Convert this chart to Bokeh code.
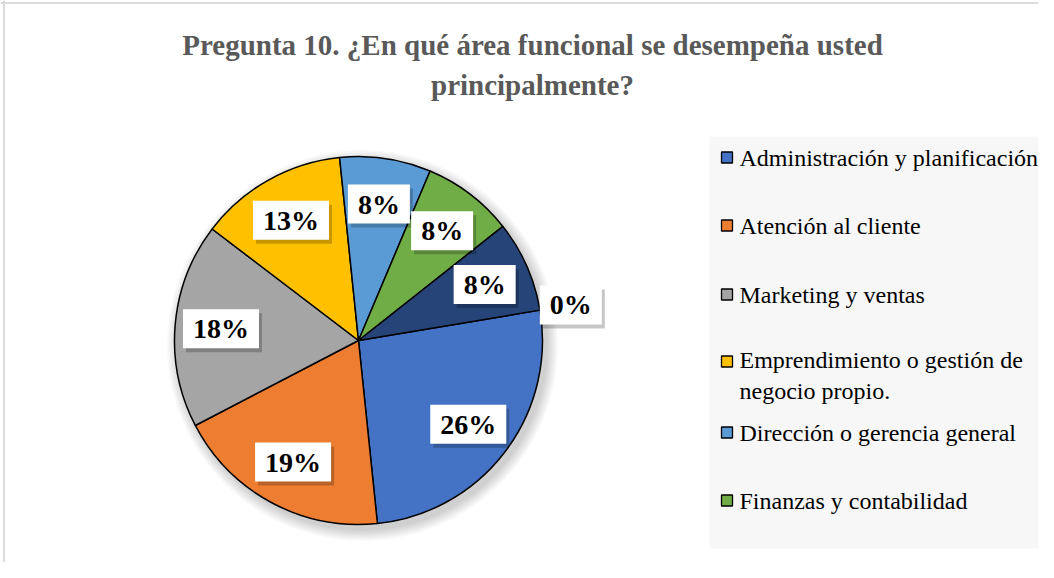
import numpy as np
from bokeh.plotting import figure
from bokeh.models import Range1d, ColumnDataSource, Span
from bokeh.core.properties import value
from bokeh.embed import file_html
from bokeh.resources import INLINE

# ---------------- data ----------------
title_text = "Pregunta 10. ¿En qué área funcional se desempeña usted\nprincipalmente?"
legend_names = [
    "Administración y planificación",
    "Atención al cliente",
    "Marketing y ventas",
    "Emprendimiento o gestión de\nnegocio propio.",
    "Dirección o gerencia general",
    "Finanzas y contabilidad",
]
slice_pct = [26, 19, 18, 13, 8, 8, 8, 0]
slice_labels = ["26%", "19%", "18%", "13%", "8%", "8%", "8%", "0%"]
slice_colors = ["#4472C4", "#ED7D31", "#A5A5A5", "#FFC000", "#5B9BD5", "#70AD47", "#264478", "#9E480E"]

# ---------------- layout ----------------
W, H = 1038, 562
def X(sx): return sx
def Y(sy): return H - sy

cx, cy, R = X(358), Y(340), 184
start_deg = 9.5

p = figure(width=W, height=H, output_backend="svg", toolbar_location=None,
           x_range=Range1d(0, W), y_range=Range1d(0, H), min_border=0)
p.axis.visible = False
p.grid.visible = False
p.outline_line_color = None
p.background_fill_color = "white"
p.border_fill_color = "white"

# chart border (left/top)
p.add_layout(Span(location=3.5, dimension="height", line_color="#d0d0d0", line_width=1.5))
p.add_layout(Span(location=H - 2.5, dimension="width", line_color="#d0d0d0", line_width=1.5))

# title
p.text(x=[X(532)], y=[Y(64)], text=[title_text], text_align="center", text_baseline="middle",
       text_font=value("Liberation Serif"), text_font_style="bold", text_font_size="29px",
       text_color="#595959", text_line_height=1.25)

# pie shadow
for i in range(8):
    p.circle(x=[cx + 4], y=[cy - 5], radius=R + 1 + i * 1.5, radius_units="screen",
             fill_color="black", fill_alpha=0.025, line_color=None)

# wedges (zero-size slices are not drawn)
vals = np.array(slice_pct, dtype=float)
frac = vals / vals.sum()
cum = np.concatenate([[0], np.cumsum(frac)])
start_rad = np.deg2rad(start_deg)
sa = start_rad - 2 * np.pi * cum[:-1]
ea = start_rad - 2 * np.pi * cum[1:]
nz = vals > 0
src = ColumnDataSource(dict(x=[cx] * int(nz.sum()), y=[cy] * int(nz.sum()), sa=sa[nz], ea=ea[nz],
                            color=[c for c, k in zip(slice_colors, nz) if k]))
p.wedge(x="x", y="y", radius=R, radius_units="screen", start_angle="sa", end_angle="ea",
        direction="clock", fill_color="color", line_color="black", line_width=1.5, source=src)

# labels
mid = (sa + ea) / 2
lr = np.where(vals > 0, 0.75 * R, 1.17 * R)
lx = cx + lr * np.cos(mid)
ly = cy + lr * np.sin(mid)
p.text(x=lx + 3, y=ly - 4, text=slice_labels, text_align="center", text_baseline="middle",
       text_font=value("Liberation Serif"), text_font_style="bold", text_font_size="28px",
       text_alpha=0, background_fill_color="black", background_fill_alpha=0.22, padding=[10, 4])
p.text(x=lx, y=ly, text=slice_labels, text_align="center", text_baseline="middle",
       text_font=value("Liberation Serif"), text_font_style="bold", text_font_size="28px",
       text_color="black", background_fill_color="white", padding=[10, 4])

# legend box
p.quad(left=[X(709)], right=[W], bottom=[Y(548)], top=[Y(136)], fill_color="#f7f7f7", line_color=None)
leg_y = [157, 225, 294, 375, 432, 500]
leg_sq_y = [157, 225, 294, 361, 432, 500]
p.scatter(x=[X(726.5)] * 6, y=[Y(v) for v in leg_sq_y], marker="square", size=11,
          fill_color=slice_colors[:6], line_color="black", line_width=1.3)
p.text(x=[X(739)] * 6, y=[Y(v) for v in leg_y], text=legend_names, text_align="left",
       text_baseline="middle", text_font=value("Liberation Serif"), text_font_size="24px",
       text_color="black", text_line_height=1.17)

open("out.html", "w").write(file_html(p, INLINE))
